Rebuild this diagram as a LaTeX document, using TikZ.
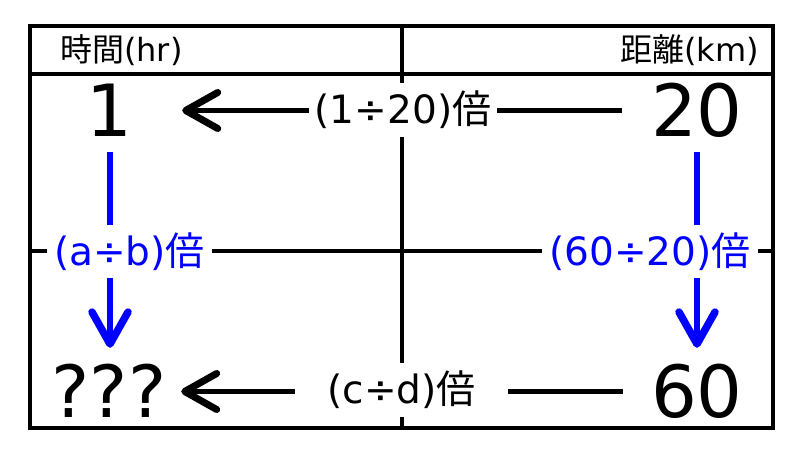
\documentclass[tikz,border=0pt]{standalone}
\usepackage{fontspec}
\setmainfont{DejaVu Sans}
\newfontfamily\cjk{Noto Sans CJK JP}
\usetikzlibrary{arrows.meta}
\begin{document}
\begin{tikzpicture}[x=1pt,y=-1pt,
  grid/.style={line width=4pt},
  blk/.style={line width=5pt,-{Straight Barb[length=32pt,width=36pt,round,line width=7pt]}},
  blu/.style={line width=6pt,draw=blue,-{Straight Barb[length=32pt,width=36pt,round,line width=7.5pt]}},
  num/.style={inner sep=0pt,align=center,text height=52pt,text depth=0pt,font=\fontsize{72}{80}\selectfont},
  hdr/.style={inner sep=0pt,font=\fontsize{32}{36}\selectfont},
  lbl/.style={inner sep=0pt,fill=white,font=\fontsize{39}{44}\selectfont}]
\useasboundingbox (0,0) rectangle (800,450);
\draw[grid] (30,26) rectangle (773,428);
\draw[grid] (30,74) -- (773,74);
\draw[grid] (402,26) -- (402,428);
\draw[grid] (30,251) -- (773,251);
\node[hdr,anchor=west] (hL) at (60,50) {{\cjk 時間}(hr)};
\node[hdr,anchor=east] (hR) at (759,50) {{\cjk 距離}(km)};
\node[num,text width=48pt] (n1) at (109,110.5) {1};
\node[num,text width=96pt] (n20) at (697,110.5) {20};
\node[num,text width=116pt] (nq) at (109,391.5) {???};
\node[num,text width=96pt] (n60) at (697,391.5) {60};
\draw[blk,shorten <=27pt,shorten >=49pt] (n20.west) -- (n1.east);
\draw[blk,shorten <=26pt,shorten >=14pt] (n60.west) -- (nq.east);
\draw[blu,shorten <=15.5pt,shorten >=17.5pt] ([xshift=1pt]n1.south) -- ([xshift=1pt]nq.north);
\draw[blu,shorten <=15.5pt,shorten >=17.5pt] (n20.south) -- (n60.north);
\node[lbl,minimum width=188pt,minimum height=54pt] (l1) at (403,110) {(1÷20){\cjk 倍}};
\node[lbl,minimum width=213pt,minimum height=54pt] (l2) at (401.5,390) {(c÷d){\cjk 倍}};
\node[lbl,text=blue,minimum width=165pt,minimum height=53pt] (l3) at (129.5,251.5) {(a÷b){\cjk 倍}};
\node[lbl,text=blue,minimum width=216pt,minimum height=53pt] (l4) at (650,251.5) {(60÷20){\cjk 倍}};
\end{tikzpicture}
\end{document}
